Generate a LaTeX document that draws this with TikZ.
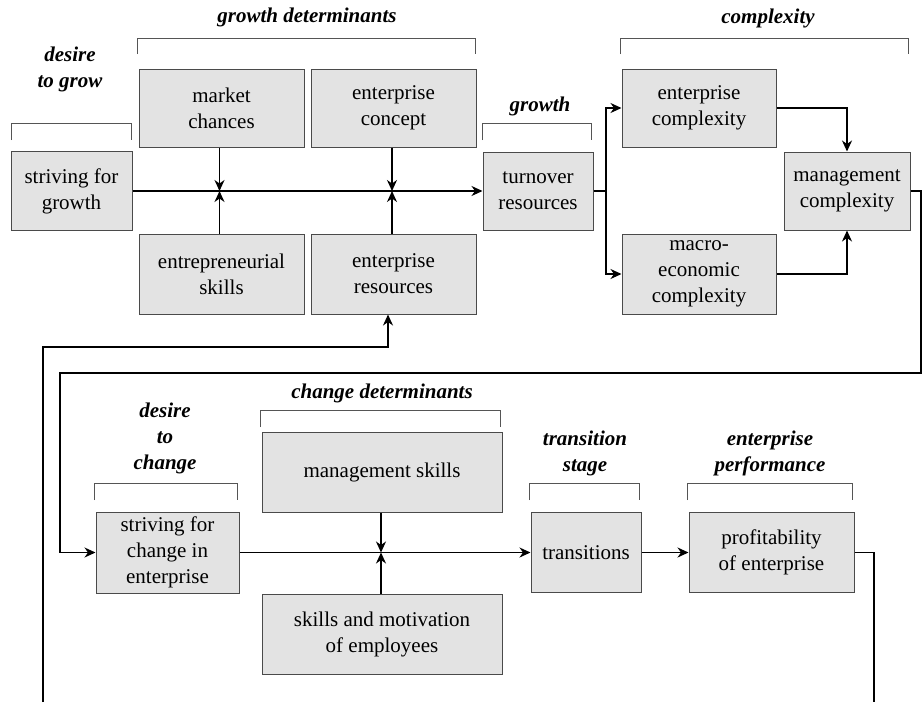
\documentclass[tikz,border=0pt]{standalone}
\usepackage{fontspec}
\setmainfont{Liberation Serif}
\usetikzlibrary{arrows.meta}
\definecolor{boxfill}{HTML}{E3E3E3}
\definecolor{boxline}{HTML}{4A4A4A}
\definecolor{bracegray}{HTML}{555555}
\begin{document}
\begin{tikzpicture}[x=1pt,y=-1pt,
  box/.style={draw=boxline, fill=boxfill, line width=1pt, inner sep=0pt,
    align=center, font=\fontsize{21}{26}\selectfont},
  head/.style={font=\fontsize{21}{26}\selectfont\bfseries\itshape,
    align=center, inner sep=0pt},
  brace/.style={draw=bracegray, line width=1pt},
  link/.style={line width=1.5pt},
  flow/.style={link, -{Stealth[length=11pt,width=10pt,inset=3.5pt]}}]
\useasboundingbox (0,0) rectangle (923,702);

% ---- growth part ----
\node[box, minimum width=121pt, minimum height=79pt] (sg)  at (71.5,191)  {striving for\\growth};
\node[box, minimum width=165pt, minimum height=78pt] (mc)  at (221.5,108) {market\\chances};
\node[box, minimum width=165pt, minimum height=78pt] (ec)  at (393.5,108) {enterprise\\concept};
\node[box, minimum width=165pt, minimum height=80pt] (es)  at (221.5,274) {entrepreneurial\\skills};
\node[box, minimum width=165pt, minimum height=80pt] (er)  at (393.5,274) {enterprise\\resources};
\node[box, minimum width=110pt, minimum height=78pt] (tr)  at (538,191)   {turnover\\resources};
\node[box, minimum width=154pt, minimum height=78pt] (ecx) at (699,108)   {enterprise\\complexity};
\node[box, minimum width=126pt, minimum height=78pt] (mcx) at (847,191)   {management\\complexity};
\node[box, minimum width=154pt, minimum height=80pt] (mac) at (699,274)   {macro-\\economic\\complexity};

% ---- change part ----
\node[box, minimum width=143pt, minimum height=81pt] (sc) at (167.5,552.5) {striving for\\change in\\enterprise};
\node[box, minimum width=240pt, minimum height=80pt] (ms) at (382,472)     {management skills};
\node[box, minimum width=240pt, minimum height=80pt] (sm) at (382,634)     {skills and motivation\\of employees};
\node[box, minimum width=110pt, minimum height=80pt] (tn) at (586,552.5)   {transitions};
\node[box, minimum width=165pt, minimum height=80pt] (pf) at (771.5,552.5) {profitability\\of enterprise};

% ---- headings ----
\node[head] (h1) at (307,17)    {growth determinants};
\node[head] (h2) at (70,69)     {desire\\to grow};
\node[head] (h3) at (540,106)   {growth};
\node[head] (h4) at (768,18)    {complexity};
\node[head] (h5) at (382,393)   {change determinants};
\node[head] (h6) at (165,438)   {desire\\to\\change};
\node[head] (h7) at (585,453)   {transition\\stage};
\node[head] (h8) at (770,453)   {enterprise\\performance};

% ---- brackets ----
\draw[brace] (137,54) -- (137,38) -- (475,38) -- (475,54);
\draw[brace] (11,140) -- (11,123) -- (131,123) -- (131,140);
\draw[brace] (482,140) -- (482,123) -- (591,123) -- (591,140);
\draw[brace] (620,54) -- (620,38) -- (908,38) -- (908,54);
\draw[brace] (260,427) -- (260,410) -- (500,410) -- (500,427);
\draw[brace] (94,500) -- (94,483) -- (237,483) -- (237,500);
\draw[brace] (529,500) -- (529,483) -- (639,483) -- (639,500);
\draw[brace] (687,500) -- (687,483) -- (852,483) -- (852,500);

% ---- growth connectors ----
\draw[flow] (sg.east) -- (sg.east -| tr.west);
\coordinate (j1) at (219.5,191);
\coordinate (j2) at (392,191);
\draw[flow] (j1 |- mc.south) -- (j1);
\draw[flow] (j1 |- es.north) -- (j1);
\draw[flow] (j2 |- ec.south) -- (j2);
\draw[flow] (j2 |- er.north) -- (j2);

\coordinate (fork) at (606,191);
\draw[link] (tr.east) -- (fork);
\draw[flow] (fork) |- (ecx.west);
\draw[flow] (fork) |- (mac.west);
\draw[flow] (ecx.east) -| (mcx.north);
\draw[flow] (mac.east) -| (mcx.south);

% ---- feedback loops ----
\coordinate (r1) at (921,373);
\coordinate (l1) at (60,373);
\draw[flow] (mcx.east) -| (r1) -- (l1) |- (sc.west);

\coordinate (b1) at (43,702);
\coordinate (k1) at (388,347);
\draw[flow] (b1) |- (k1) -- (k1 |- er.south);

\coordinate (b2) at (874,702);
\draw[link] (pf.east) -| (b2);

% ---- change connectors ----
\coordinate (j3) at (381,552.5);
\draw[flow] (sc.east) -- (sc.east -| tn.west);
\draw[flow] (j3 |- ms.south) -- (j3);
\draw[flow] (j3 |- sm.north) -- (j3);
\draw[flow] (tn.east) -- (pf.west);
\end{tikzpicture}
\end{document}
